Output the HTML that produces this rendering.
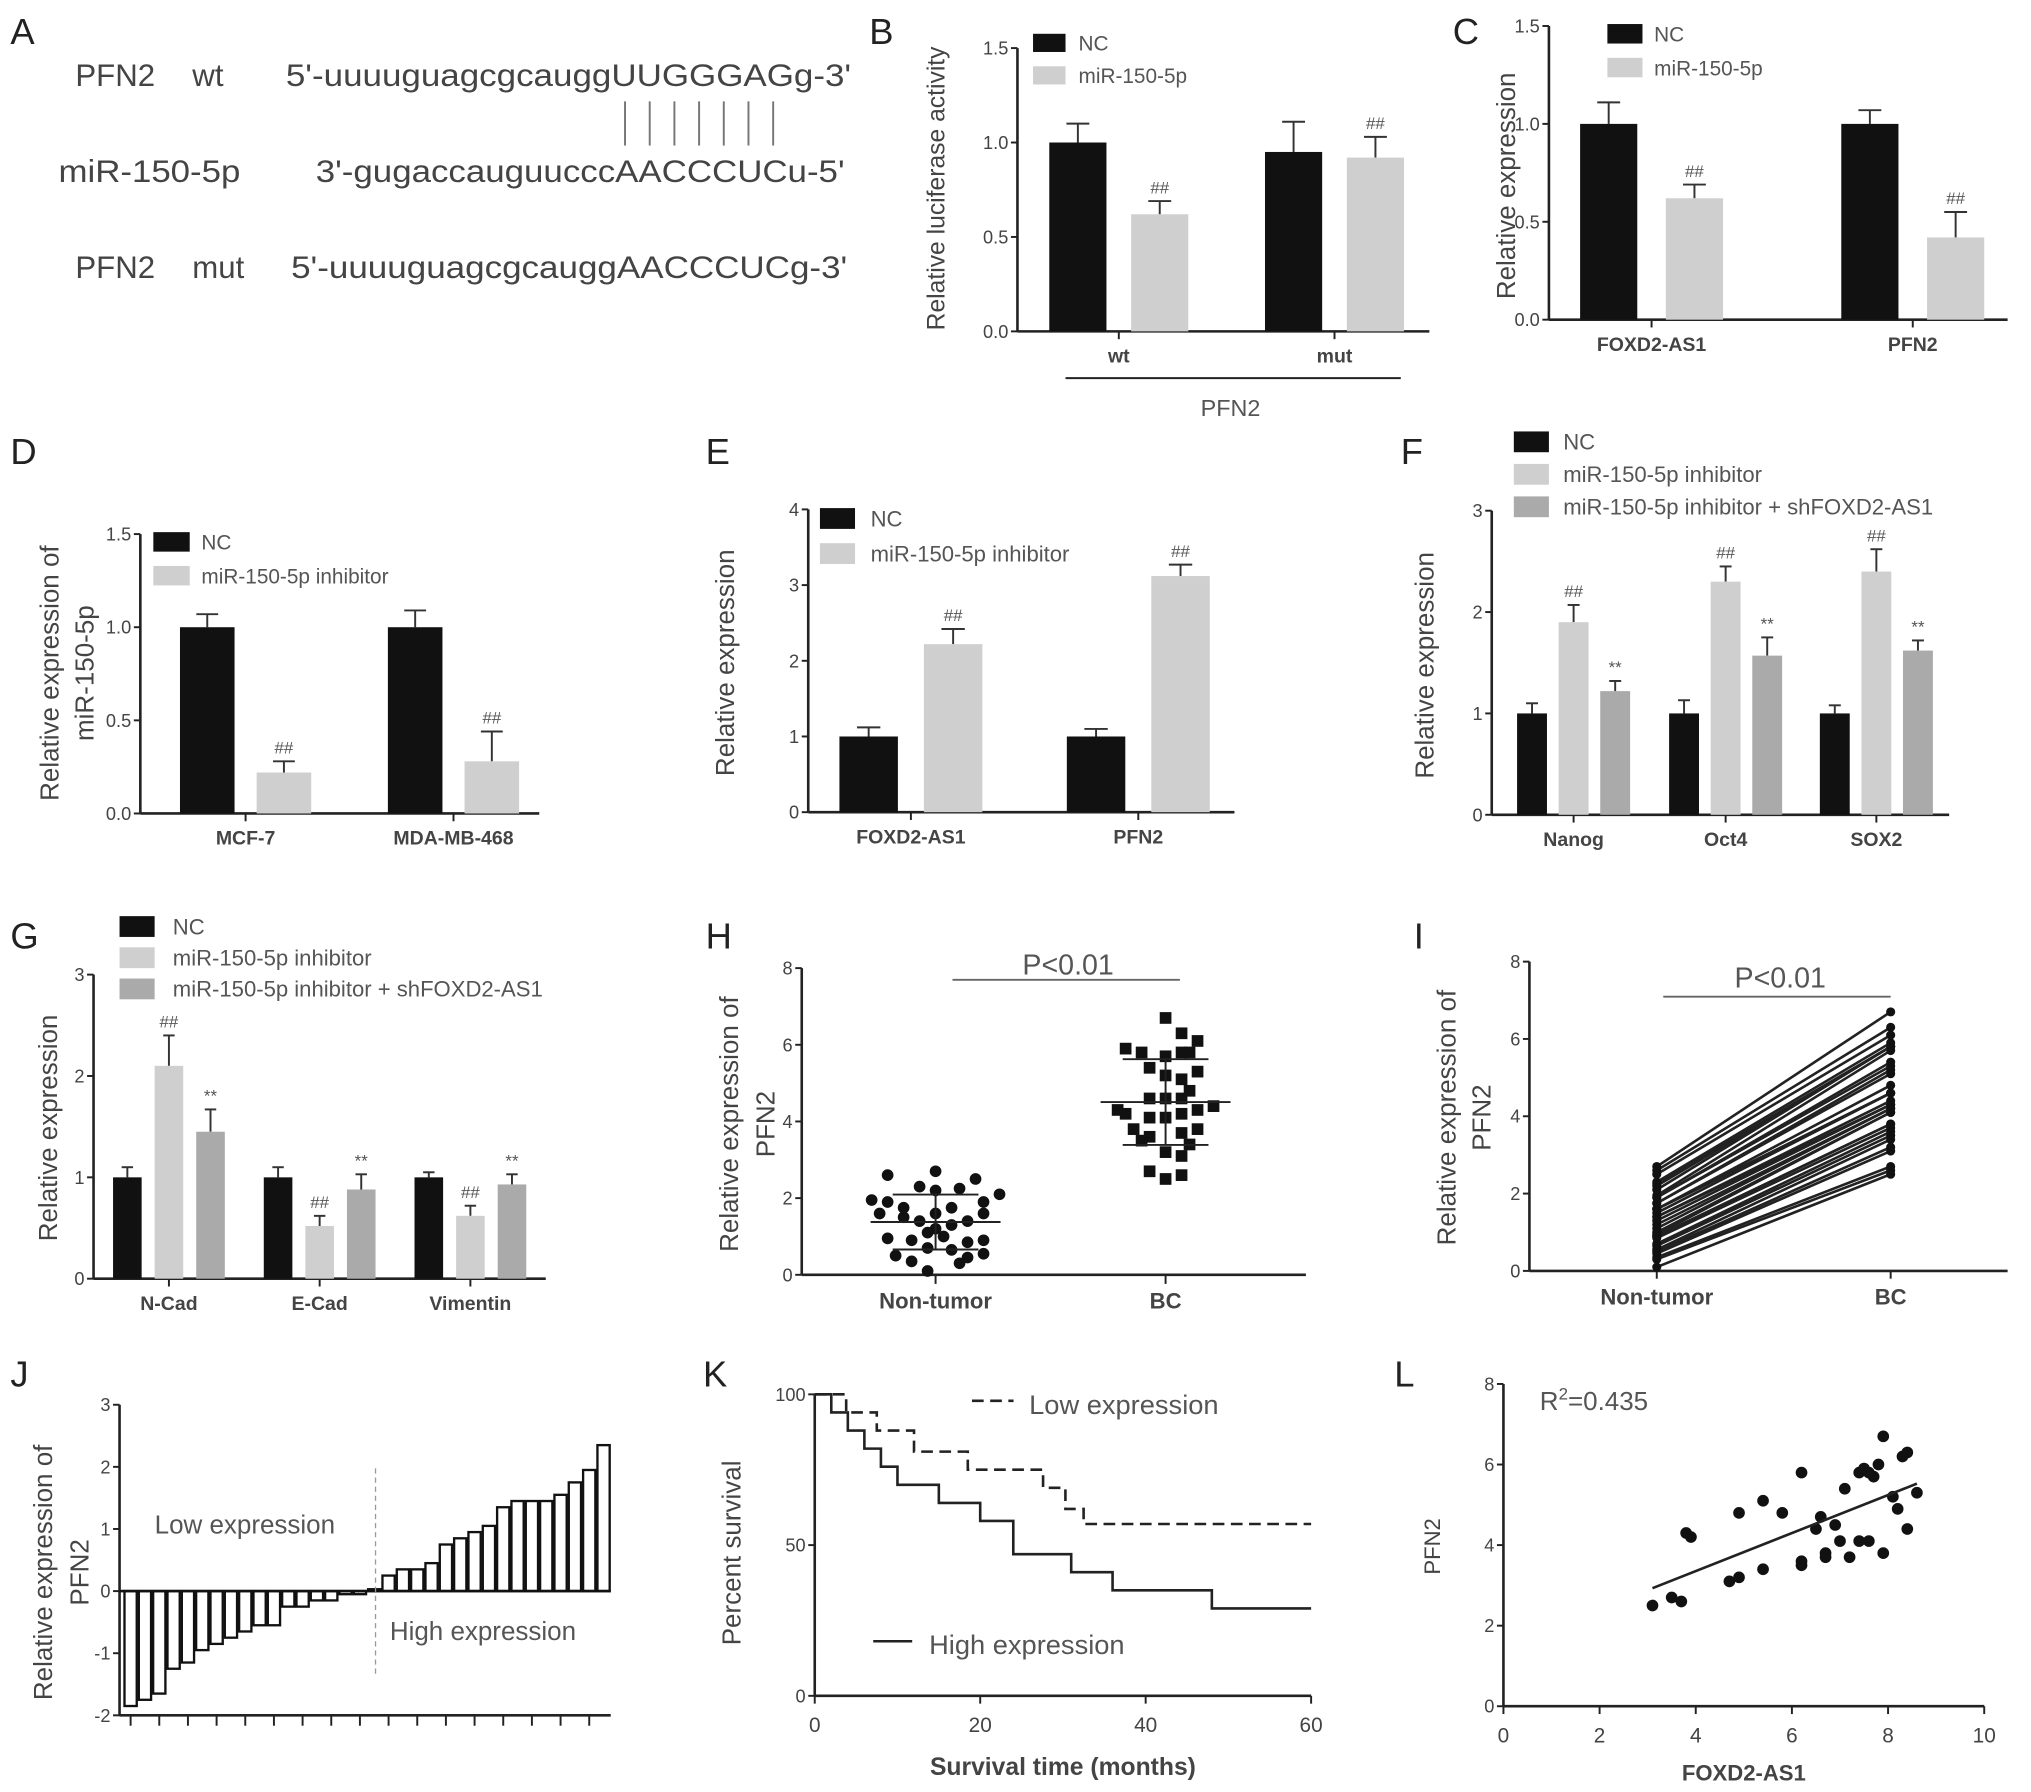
<!DOCTYPE html>
<html><head><meta charset="utf-8">
<style>
html,body{margin:0;padding:0;background:#fff;}
svg{display:block;font-family:"Liberation Sans",Arial,sans-serif;}
</style></head>
<body>
<svg id="fig" width="2031" height="1792" viewBox="0 0 1563 1379" preserveAspectRatio="none" xmlns="http://www.w3.org/2000/svg">
<g fill="#444" font-size="24">
<text x="58" y="66">PFN2</text><text x="148" y="66">wt</text>
<text x="220" y="66" textLength="435" lengthAdjust="spacingAndGlyphs">5'-uuuuguagcgcauggUUGGGAGg-3'</text>
<text x="45" y="140" textLength="140" lengthAdjust="spacingAndGlyphs">miR-150-5p</text>
<text x="243" y="140" textLength="407" lengthAdjust="spacingAndGlyphs">3'-gugaccauguucccAACCCUCu-5'</text>
<text x="58" y="214">PFN2</text><text x="148" y="214">mut</text>
<text x="224" y="214" textLength="428" lengthAdjust="spacingAndGlyphs">5'-uuuuguagcgcauggAACCCUCg-3'</text>
<g stroke="#777" stroke-width="1.5">
<line x1="481" y1="78" x2="481" y2="112"/><line x1="500" y1="78" x2="500" y2="112"/><line x1="519" y1="78" x2="519" y2="112"/><line x1="538" y1="78" x2="538" y2="112"/><line x1="557" y1="78" x2="557" y2="112"/><line x1="576" y1="78" x2="576" y2="112"/><line x1="595" y1="78" x2="595" y2="112"/>
</g>
</g>
<g id="letters" font-size="28" fill="#222">
<text x="8" y="34">A</text><text x="669" y="34">B</text><text x="1118" y="34">C</text>
<text x="8" y="357">D</text><text x="543" y="357">E</text><text x="1078" y="357">F</text>
<text x="8" y="730">G</text><text x="543" y="730">H</text><text x="1088" y="730">I</text>
<text x="8" y="1067">J</text><text x="541" y="1067">K</text><text x="1073" y="1067">L</text>
</g>
</svg>
<script>
// ---------- data ----------
const bCats=['wt','mut'];
const bNC=[1.0,0.95], bNCerr=[0.1,0.16];
const bMiR=[0.62,0.92], bMiRerr=[0.07,0.11];
const bTicks=['0.0','0.5','1.0','1.5'];

const cCats=['FOXD2-AS1','PFN2'];
const cNC=[1.0,1.0], cNCerr=[0.11,0.07];
const cMiR=[0.62,0.42], cMiRerr=[0.07,0.13];
const cTicks=['0.0','0.5','1.0','1.5'];

const dCats=['MCF-7','MDA-MB-468'];
const dNC=[1.0,1.0], dNCerr=[0.07,0.09];
const dInh=[0.22,0.28], dInhErr=[0.06,0.16];
const dTicks=['0.0','0.5','1.0','1.5'];

const eCats=['FOXD2-AS1','PFN2'];
const eNC=[1.0,1.0], eNCerr=[0.12,0.1];
const eInh=[2.22,3.12], eInhErr=[0.2,0.15];
const eTicks=['0','1','2','3','4'];

const fCats=['Nanog','Oct4','SOX2'];
const fNC=[1.0,1.0,1.0], fNCerr=[0.1,0.13,0.08];
const fInh=[1.9,2.3,2.4], fInhErr=[0.17,0.15,0.22];
const fSh=[1.22,1.57,1.62], fShErr=[0.1,0.18,0.1];
const fTicks=['0','1','2','3'];

const gCats=['N-Cad','E-Cad','Vimentin'];
const gNC=[1.0,1.0,1.0], gNCerr=[0.1,0.1,0.05];
const gInh=[2.1,0.52,0.62], gInhErr=[0.3,0.1,0.1];
const gSh=[1.45,0.88,0.93], gShErr=[0.22,0.15,0.1];
const gTicks=['0','1','2','3'];

const hNTvals=[1.95,1.9,1.6,1.5,1.4,1.6,1.75,1.4,1.6,1.75,2.6,2.7,2.5,2.3,2.2,2.25,1.9,2.1,1.3,1.1,1.2,1.0,0.95,0.9,0.85,0.9,0.7,0.65,0.5,0.35,0.3,0.45,0.55,0.1];
const hNTcol=[-4,-3,-3.5,-2,-1,0,1,2,3,-2,-3,0,2.5,-1,0,1.5,3,4,1,-0.5,0,0.5,-3,-1.5,2,3,-0.5,1,-2.5,-1.5,1.5,2,3,-0.5];
const hBCvals=[6.7,6.3,6.1,5.9,5.8,5.7,5.8,5.8,5.4,5.2,5.1,5.3,4.6,4.6,4.6,4.8,4.3,4.2,4.1,4.1,4.2,4.3,4.4,3.8,3.6,3.5,3.7,3.8,3.4,3.2,3.1,2.7,2.5,2.6];
const hBCcol=[0,1,2,-2.5,-1.5,0,1,1.5,-1,0,1,2,-1,0,1,1.5,-3,-2.5,-1,0,1,2,3,-2,-1,-1.5,1,2,1.5,0,1,-1,0,1];
const hTicks=['0','2','4','6','8'];

const jVals=[-1.85,-1.75,-1.65,-1.25,-1.15,-0.95,-0.85,-0.75,-0.65,-0.55,-0.55,-0.25,-0.25,-0.15,-0.15,-0.05,-0.05,0.03,0.25,0.35,0.35,0.45,0.75,0.85,0.95,1.05,1.35,1.45,1.45,1.45,1.55,1.75,1.95,2.35];
const jTicks=['-2','-1','0','1','2','3'];

const kLowT=[0,3.8,7.5,12,18.5,27.6,30.3,32.5,60];
const kLowS=[100,94,88,81,75,69,62,57,57];
const kHighT=[0,2,4,6,8,10,15,20,24,31,36,48,60];
const kHighS=[100,94,88,82,76,70,64,58,47,41,35,29,29];
const kXTicks=['0','20','40','60'];
const kYTicks=['0','50','100'];

const lX=[3.1,3.5,3.7,3.8,3.9,4.7,4.9,4.9,5.4,5.4,5.8,6.2,6.2,6.2,6.6,6.7,6.7,6.9,7.0,7.1,7.2,7.4,7.5,7.4,7.6,7.7,7.8,7.9,7.9,8.1,8.2,8.3,8.4,8.4,8.6,6.5,7.6];
const lY=[2.5,2.7,2.6,4.3,4.2,3.1,3.2,4.8,5.1,3.4,4.8,3.5,3.6,5.8,4.7,3.7,3.8,4.5,4.1,5.4,3.7,5.8,5.9,4.1,4.1,5.7,6.0,3.8,6.7,5.2,4.9,6.2,6.3,4.4,5.3,4.4,5.8];
const lXTicks=['0','2','4','6','8','10'];
const lYTicks=['0','2','4','6','8'];

// ---------- helpers ----------
const NS='http://www.w3.org/2000/svg';
const svg=document.getElementById('fig');
function mk(tag,attrs,parent){const e=document.createElementNS(NS,tag);for(const k in attrs)e.setAttribute(k,attrs[k]);(parent||svg).appendChild(e);return e;}
function txt(s,attrs,parent){const e=mk('text',attrs,parent);e.textContent=s;return e;}
function lin(s,v0,v1,p0,p1){return v=>p0+(v-v0)/(v1-v0)*(p1-p0);}

function yAxis(g,ax,ys,ticks,vals,fs){
  const a=mk('line',{x1:ax,y1:ys(vals[0]),x2:ax,y2:ys(vals[vals.length-1]),stroke:'#222','stroke-width':2},g);
  
  
  ticks.forEach((t,i)=>{const y=ys(vals[i]);
    mk('line',{x1:ax-5,y1:y,x2:ax,y2:y,stroke:'#222','stroke-width':1.5},g);
    const tl=txt(t,{x:ax-7,y:y+5,'text-anchor':'end','font-size':fs||14,fill:'#444'},g);
    
    
  });
}
function yTitle(g,lines,x,cy,fs){
  lines.forEach((s,i)=>{const t=txt(s,{x:x[i],y:cy,'text-anchor':'middle','font-size':fs||20,fill:'#444',transform:`rotate(-90 ${x[i]} ${cy})`},g);
    
    });
}
function legend(g,items,x,y0,dy,sw,sh,tx,fs){
  items.forEach((it,i)=>{const y=y0+i*dy;
    const r=mk('rect',{x:x,y:y-sh/2,width:sw,height:sh,fill:it[1]},g);
    
    
    const t=txt(it[0],{x:tx,y:y+6,'font-size':fs||16,fill:'#555'},g);
    
    });
}
function barChart(name,o){
  const g=mk('g',{});
  
  
  const ys=lin(null,0,o.ymax,o.y0,o.yTop);
  const tv=o.ticks.map((t,i)=>i*o.ymax/(o.ticks.length-1));
  const xa=mk('line',{x1:o.ax,y1:o.y0,x2:o.x1,y2:o.y0,stroke:'#222','stroke-width':2},g);
  
  
  yAxis(g,o.ax,ys,o.ticks,tv);
  const n=o.series.length;
  o.cats.forEach((c,ci)=>{
    const cx=o.centers[ci];
    mk('line',{x1:cx,y1:o.y0,x2:cx,y2:o.y0+6,stroke:'#222','stroke-width':1.5},g);
    const cl=txt(c,{x:cx,y:o.y0+24,'text-anchor':'middle','font-size':15,'font-weight':'bold',fill:'#444'},g);
    
    
    o.series.forEach((s,si)=>{
      const bx=cx+(si-(n-1)/2)*o.sp;
      const v=s.vals[ci], e=s.err[ci];
      const top=ys(v), et=ys(v+e);
      mk('line',{x1:bx,y1:top,x2:bx,y2:et,stroke:'#333','stroke-width':1.5},g);
      mk('line',{x1:bx-o.w*0.2,y1:et,x2:bx+o.w*0.2,y2:et,stroke:'#333','stroke-width':1.5},g);
      const r=mk('rect',{x:bx-o.w/2,y:top,width:o.w,height:o.y0-top,fill:s.color},g);
      
      
      if(s.mark){const m=txt(s.mark,{x:bx,y:et-6,'text-anchor':'middle','font-size':13,fill:'#555'},g);
        
        }
    });
  });
  return g;
}
const BLK='#111', LG='#cfcfcf', MG='#aaaaaa';

let g=barChart('panel-b-chart',{ax:783,x1:1100,y0:255,yTop:37,ymax:1.5,ticks:bTicks,cats:bCats,centers:[861,1027],w:44,sp:63,
  series:[{key:'nc',vals:bNC,err:bNCerr,color:BLK},{key:'mir',vals:bMiR,err:bMiRerr,color:LG,mark:'##'}]});
txt('PFN2',{x:947,y:320,'text-anchor':'middle','font-size':18,fill:'#555'},g);
mk('line',{x1:820,y1:291,x2:1078,y2:291,stroke:'#222','stroke-width':1.5},g);
yTitle(g,['Relative luciferase activity'],[727],145,19);
legend(g,[['NC',BLK],['miR-150-5p',LG]],795,33,25,25,14,830,16);

g=barChart('panel-c-chart',{ax:1192,x1:1545,y0:246,yTop:20,ymax:1.5,ticks:cTicks,cats:cCats,centers:[1271,1472],w:44,sp:66,
  series:[{key:'nc',vals:cNC,err:cNCerr,color:BLK},{key:'mir',vals:cMiR,err:cMiRerr,color:LG,mark:'##'}]});
yTitle(g,['Relative expression'],[1166],143,20);
legend(g,[['NC',BLK],['miR-150-5p',LG]],1237,26,26,27,15,1273,16);

g=barChart('panel-d-chart',{ax:108,x1:415,y0:626,yTop:411,ymax:1.5,ticks:dTicks,cats:dCats,centers:[189,349],w:42,sp:59,
  series:[{key:'nc',vals:dNC,err:dNCerr,color:BLK},{key:'inh',vals:dInh,err:dInhErr,color:LG,mark:'##'}]});
yTitle(g,['Relative expression of','miR-150-5p'],[45,72],518,20);
legend(g,[['NC',BLK],['miR-150-5p inhibitor',LG]],118,417,26,28,15,155,16);

g=barChart('panel-e-chart',{ax:622,x1:950,y0:625,yTop:392,ymax:4,ticks:eTicks,cats:eCats,centers:[701,876],w:45,sp:65,
  series:[{key:'nc',vals:eNC,err:eNCerr,color:BLK},{key:'inh',vals:eInh,err:eInhErr,color:LG,mark:'##'}]});
yTitle(g,['Relative expression'],[565],510,20);
legend(g,[['NC',BLK],['miR-150-5p inhibitor',LG]],631,399,27,27,16,670,17);

g=barChart('panel-f-chart',{ax:1148,x1:1500,y0:627,yTop:393,ymax:3,ticks:fTicks,cats:fCats,centers:[1211,1328,1444],w:23,sp:32,
  series:[{key:'nc',vals:fNC,err:fNCerr,color:BLK},{key:'inh',vals:fInh,err:fInhErr,color:LG,mark:'##'},{key:'sh',vals:fSh,err:fShErr,color:MG,mark:'**'}]});
yTitle(g,['Relative expression'],[1103],512,20);
legend(g,[['NC',BLK],['miR-150-5p inhibitor',LG],['miR-150-5p inhibitor + shFOXD2-AS1',MG]],1165,340,25,27,16,1203,17);

g=barChart('panel-g-chart',{ax:72,x1:420,y0:984,yTop:750,ymax:3,ticks:gTicks,cats:gCats,centers:[130,246,362],w:22,sp:32,
  series:[{key:'nc',vals:gNC,err:gNCerr,color:BLK},{key:'inh',vals:gInh,err:gInhErr,color:LG,mark:'##'},{key:'sh',vals:gSh,err:gShErr,color:MG,mark:'**'}]});
yTitle(g,['Relative expression'],[44],868,20);
legend(g,[['NC',BLK],['miR-150-5p inhibitor',LG],['miR-150-5p inhibitor + shFOXD2-AS1',MG]],92,713,24,27,16,133,17);

(function(){
  const g=mk('g',{});
  
  
  const y0=981, ys=lin(null,0,8,y0,745), ax=617;
  yAxis(g,ax,ys,hTicks,[0,2,4,6,8]);
  mk('line',{x1:ax,y1:y0,x2:1005,y2:y0,stroke:'#222','stroke-width':2},g);
  const centers=[720,897], colW=12.3, labels=['Non-tumor','BC'];
  labels.forEach((l,i)=>{mk('line',{x1:centers[i],y1:y0,x2:centers[i],y2:y0+7,stroke:'#222','stroke-width':1.5},g);
    const t=txt(l,{x:centers[i],y:y0+26,'text-anchor':'middle','font-size':17,'font-weight':'bold',fill:'#444'},g);
    
    });
  function stats(a){const m=a.reduce((s,v)=>s+v,0)/a.length;const sd=Math.sqrt(a.reduce((s,v)=>s+(v-m)*(v-m),0)/(a.length-1));return [m,sd];}
  hNTvals.forEach((v,i)=>{const c=mk('circle',{cx:centers[0]+hNTcol[i]*colW,cy:ys(v),r:4.5,fill:'#111'},g);
    
    });
  hBCvals.forEach((v,i)=>{const c=mk('rect',{x:centers[1]+hBCcol[i]*colW-4.5,y:ys(v)-4.5,width:9,height:9,fill:'#111'},g);
    
    });
  [[hNTvals,0],[hBCvals,1]].forEach(([a,i])=>{const [m,sd]=stats(a);const cx=centers[i];
    mk('line',{x1:cx-50,y1:ys(m),x2:cx+50,y2:ys(m),stroke:'#222','stroke-width':1.5},g);
    mk('line',{x1:cx,y1:ys(m-sd),x2:cx,y2:ys(m+sd),stroke:'#222','stroke-width':1.5},g);
    mk('line',{x1:cx-33,y1:ys(m-sd),x2:cx+33,y2:ys(m-sd),stroke:'#222','stroke-width':1.5},g);
    mk('line',{x1:cx-33,y1:ys(m+sd),x2:cx+33,y2:ys(m+sd),stroke:'#222','stroke-width':1.5},g);});
  mk('line',{x1:733,y1:754,x2:908,y2:754,stroke:'#666','stroke-width':1.5},g);
  txt('P<0.01',{x:822,y:750,'text-anchor':'middle','font-size':22,fill:'#555'},g);
  yTitle(g,['Relative expression of','PFN2'],[568,596],865,20);
})();

(function(){
  const g=mk('g',{});
  
  
  const y0=978, ys=lin(null,0,8,y0,740), ax=1177;
  yAxis(g,ax,ys,hTicks,[0,2,4,6,8]);
  mk('line',{x1:ax,y1:y0,x2:1545,y2:y0,stroke:'#222','stroke-width':2},g);
  const xs=[1275,1455];
  ['Non-tumor','BC'].forEach((l,i)=>{mk('line',{x1:xs[i],y1:y0,x2:xs[i],y2:y0+6,stroke:'#222','stroke-width':1.5},g);
    txt(l,{x:xs[i],y:y0+26,'text-anchor':'middle','font-size':17,'font-weight':'bold',fill:'#444'},g);});
  const a=hNTvals.slice().sort((p,q)=>p-q), b=hBCvals.slice().sort((p,q)=>p-q);
  a.forEach((v,i)=>{const l=mk('line',{x1:xs[0],y1:ys(v),x2:xs[1],y2:ys(b[i]),stroke:'#222','stroke-width':2},g);
    
    
    mk('circle',{cx:xs[0],cy:ys(v),r:3.5,fill:'#111'},g);
    mk('circle',{cx:xs[1],cy:ys(b[i]),r:3.5,fill:'#111'},g);});
  mk('line',{x1:1280,y1:767,x2:1455,y2:767,stroke:'#666','stroke-width':1.5},g);
  txt('P<0.01',{x:1370,y:760,'text-anchor':'middle','font-size':22,fill:'#555'},g);
  yTitle(g,['Relative expression of','PFN2'],[1120,1147],860,20);
})();

(function(){
  const g=mk('g',{});
  
  
  const ax=92, ys=lin(null,-2,3,1320,1081);
  yAxis(g,ax,ys,jTicks,[-2,-1,0,1,2,3]);
  mk('line',{x1:ax,y1:ys(-2),x2:470,y2:ys(-2),stroke:'#222','stroke-width':2},g);
  const step=(470-95)/jVals.length;
  for(let i=0;i<jVals.length;i+=2){const x=95+step*(i+0.5);mk('line',{x1:x,y1:ys(-2),x2:x,y2:ys(-2)+8,stroke:'#222','stroke-width':1.5},g);}
  jVals.forEach((v,i)=>{const x=95+step*i;const y=Math.min(ys(v),ys(0));const h=Math.abs(ys(v)-ys(0));
    const r=mk('rect',{x:x+0.8,y:y,width:step-1.6,height:Math.max(h,1),fill:'#fff',stroke:'#111','stroke-width':1.8},g);
    
    });
  mk('line',{x1:ax,y1:ys(0),x2:470,y2:ys(0),stroke:'#111','stroke-width':2},g);
  mk('line',{x1:289,y1:1130,x2:289,y2:1290,stroke:'#999','stroke-width':1,'stroke-dasharray':'4 3'},g);
  txt('Low expression',{x:119,y:1180,'font-size':20,fill:'#555'},g);
  txt('High expression',{x:300,y:1262,'font-size':20,fill:'#555'},g);
  yTitle(g,['Relative expression of','PFN2'],[40,68],1210,20);
})();

(function(){
  const g=mk('g',{});
  
  
  const xs=lin(null,0,60,627,1009), ys=lin(null,0,100,1305,1073);
  yAxis(g,627,ys,kYTicks,[0,50,100],14);
  mk('line',{x1:627,y1:1305,x2:1009,y2:1305,stroke:'#222','stroke-width':2},g);
  kXTicks.forEach((t,i)=>{const x=xs(i*20);mk('line',{x1:x,y1:1305,x2:x,y2:1311,stroke:'#222','stroke-width':1.5},g);
    txt(t,{x:x,y:1333,'text-anchor':'middle','font-size':16,fill:'#444'},g);});
  function step(T,S){let d=`M${xs(T[0])},${ys(S[0])}`;for(let i=1;i<T.length;i++){d+=` H${xs(T[i])} V${ys(S[i])}`;}return d;}
  const lo=mk('path',{d:step(kLowT,kLowS),fill:'none',stroke:'#222','stroke-width':2,'stroke-dasharray':'9 5'},g);
  
  
  const hi=mk('path',{d:step(kHighT,kHighS),fill:'none',stroke:'#222','stroke-width':2},g);
  
  
  mk('line',{x1:748,y1:1078,x2:780,y2:1078,stroke:'#222','stroke-width':2,'stroke-dasharray':'9 5'},g);
  txt('Low expression',{x:792,y:1088,'font-size':21,fill:'#555'},g);
  mk('line',{x1:672,y1:1263,x2:702,y2:1263,stroke:'#222','stroke-width':2},g);
  txt('High expression',{x:715,y:1273,'font-size':21,fill:'#555'},g);
  yTitle(g,['Percent survival'],[570],1195,20);
  txt('Survival time (months)',{x:818,y:1366,'text-anchor':'middle','font-size':19,'font-weight':'bold',fill:'#444'},g);
})();

(function(){
  const g=mk('g',{});
  
  
  const xs=lin(null,0,10,1157,1527), ys=lin(null,0,8,1313,1065);
  yAxis(g,1157,ys,lYTicks,[0,2,4,6,8],14);
  mk('line',{x1:1157,y1:1313,x2:1527,y2:1313,stroke:'#222','stroke-width':2},g);
  lXTicks.forEach((t,i)=>{const x=xs(i*2);mk('line',{x1:x,y1:1313,x2:x,y2:1319,stroke:'#222','stroke-width':1.5},g);
    txt(t,{x:x,y:1341,'text-anchor':'middle','font-size':16,fill:'#444'},g);});
  lX.forEach((v,i)=>{const c=mk('circle',{cx:xs(v),cy:ys(lY[i]),r:4.5,fill:'#111'},g);
    
    });
  const n=lX.length,mx=lX.reduce((a,b)=>a+b)/n,my=lY.reduce((a,b)=>a+b)/n;
  let sxy=0,sxx=0;lX.forEach((v,i)=>{sxy+=(v-mx)*(lY[i]-my);sxx+=(v-mx)*(v-mx);});
  const sl=sxy/sxx, ic=my-sl*mx, xmin=Math.min(...lX), xmax=Math.max(...lX);
  const rl=mk('line',{x1:xs(xmin),y1:ys(ic+sl*xmin),x2:xs(xmax),y2:ys(ic+sl*xmax),stroke:'#222','stroke-width':2},g);
  
  
  const t=txt('R',{x:1185,y:1085,'font-size':20,fill:'#555'},g);
  const s1=mk('tspan',{dy:-8,'font-size':13},t);s1.textContent='2';
  const s2=mk('tspan',{dy:8},t);s2.textContent='=0.435';
  yTitle(g,['PFN2'],[1108],1190,17);
  txt('FOXD2-AS1',{x:1342,y:1370,'text-anchor':'middle','font-size':17,'font-weight':'bold',fill:'#444'},g);
})();
</script>
</body></html>
